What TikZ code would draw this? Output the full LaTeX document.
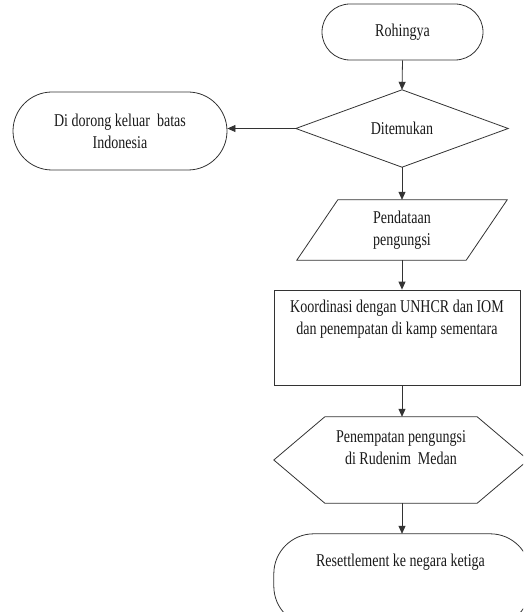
\documentclass[tikz,border=0pt]{standalone}
\usepackage{fontspec}
\setmainfont{Liberation Serif}[FakeStretch=0.78]
\usetikzlibrary{arrows.meta,shapes.misc}
\begin{document}
\begin{tikzpicture}[x=1pt,y=1pt,
 line/.style={draw=black!80,line width=0.8pt},
 arr/.style={line,-{Triangle[length=8pt,width=7pt]}},
 txt/.style={font=\fontsize{18}{22}\selectfont,align=center,text=black!90},
 box/.style={rectangle,inner sep=0pt,draw=none}]
\useasboundingbox (0,0) rectangle (523,-612);
\clip (0,0) rectangle (523,-612);
% terminal top
\node[rounded rectangle, line, minimum width=161pt, minimum height=56pt, inner sep=0pt, txt] (roh) at (402.5,-32) {Rohingya};
% decision
\node[box, minimum width=212pt, minimum height=77pt, txt] (dit) at (402,-128.5) {Ditemukan};
\draw[line] (dit.north)--(dit.east)--(dit.south)--(dit.west)--cycle;
% left terminal
\node[rounded rectangle, line, minimum width=214pt, minimum height=78pt, inner sep=0pt, txt] (dor) at (120,-131) {Di dorong keluar\ \ batas\\Indonesia};
% parallelogram
\node[box, minimum width=169pt, minimum height=60pt, txt] (pen) at (402,-230) {Pendataan\\pengungsi};
\draw[line] ([xshift=-20.5pt]pen.south west) -- ([xshift=20.5pt]pen.north west) -- ([xshift=20.5pt]pen.north east) -- ([xshift=-20.5pt]pen.south east) -- cycle;
% process box
\node[rectangle, line, minimum width=246pt, minimum height=95pt] (koord) at (397,-337.5) {};
\node[txt] (koordtxt) at (397,-319) {Koordinasi dengan UNHCR dan IOM\\dan penempatan di kamp sementara};
% hexagon
\node[box, minimum width=254pt, minimum height=86pt] (hex) at (401,-460) {};
\draw[line] (hex.west) -- ([xshift=51pt]hex.north west) -- ([xshift=-51pt]hex.north east) -- (hex.east) -- ([xshift=-51pt]hex.south east) -- ([xshift=51pt]hex.south west) -- cycle;
\node[txt] (hextxt) at (401,-447.5) {Penempatan pengungsi\\di Rudenim\ \ Medan};
% final terminal
\node[box, minimum width=256pt, minimum height=92pt] (res) at (402,-580) {};
\draw[line, rounded corners=40pt] (res.north west) rectangle (res.south east);
\node[txt] (restxt) at (400.5,-562) {Resettlement ke negara ketiga};
% connectors
\draw[arr] (roh.south) -- (dit.north);
\draw[arr] (dit.west) -- (dor.east |- dit.west);
\draw[arr] (dit.south) -- (pen.north);
\draw[arr] (pen.south) -- (pen.south |- koord.north);
\draw[arr] (koord.south -| pen.south) -- (pen.south |- hex.north);
\draw[arr] (hex.south -| pen.south) -- (pen.south |- res.north);
\end{tikzpicture}
\end{document}
